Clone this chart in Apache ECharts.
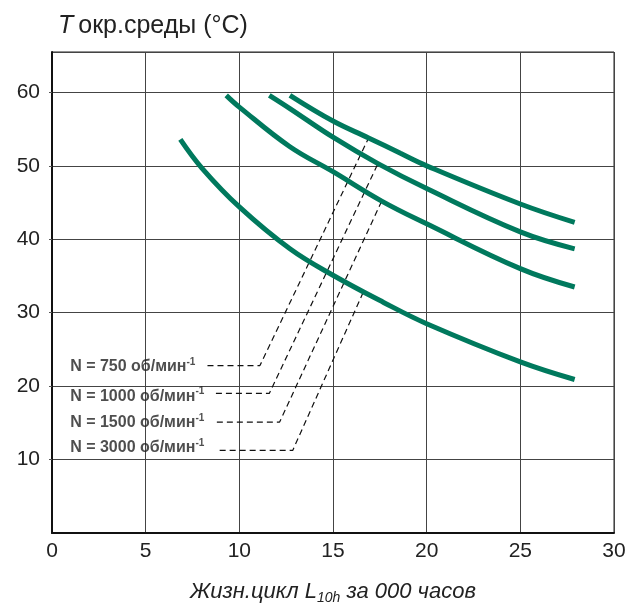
<!DOCTYPE html>
<html>
<head>
<meta charset="utf-8">
<style>
  html, body { margin: 0; padding: 0; background: #fff; }
  #main { width: 638px; height: 603px; }
</style>
<script src="https://cdn.jsdelivr.net/npm/echarts@6/dist/echarts.min.js"></script>
</head>
<body>
<div id="main"></div>
<script>
// скорости (подписи кривых)
var speeds = ['750', '1000', '1500', '3000'];
// кривые: [жизн.цикл, T]
var curve750 = [[12.7, 59.6], [15, 56.1], [16.9, 53.8], [18.6, 51.7], [20, 50.0], [25, 44.8], [27.9, 42.3]];
var curve1000 = [[11.6, 59.6], [12.7, 57.8], [15, 53.9], [17.4, 50.3], [20, 46.9], [25, 41.0], [27.9, 38.7]];
var curve1500 = [[9.3, 59.6], [10, 58.0], [12.7, 52.6], [15, 49.2], [17.6, 45.2], [20, 42.1], [25, 36.0], [27.9, 33.5]];
var curve3000 = [[6.85, 53.6], [8, 49.7], [10, 44.4], [12.7, 38.7], [15, 35.1], [17.7, 31.4], [20, 28.5], [25, 23.3], [27.9, 20.9]];
// выноски: начало у подписи, излом, точка на кривой
var lead750 = [[8.3, 22.8], [11.1, 22.8], [16.9, 53.8]];
var lead1000 = [[8.75, 19.0], [11.6, 19.0], [17.4, 50.3]];
var lead1500 = [[8.8, 15.1], [12.15, 15.1], [17.6, 45.2]];
var lead3000 = [[8.95, 11.25], [12.85, 11.25], [16.6, 32.7]];
// положение подписей (левый край)
var labelPos = [[0.97, 22.6], [0.97, 18.6], [0.97, 15.0], [0.97, 11.6]];
var xTicks = [0, 5, 10, 15, 20, 25, 30];
var yTicks = [10, 20, 30, 40, 50, 60];

var curves = [curve750, curve1000, curve1500, curve3000];
var leads = [lead750, lead1000, lead1500, lead3000];

var green = '#00795d';
var ink = '#222';
var font = 'Liberation Sans, Arial';

var chart = echarts.init(document.getElementById('main'), null, { renderer: 'canvas' });

var series = [];
curves.forEach(function (c, i) {
  series.push({
    name: speeds[i],
    type: 'line',
    data: c,
    smooth: 0.4,
    showSymbol: false,
    lineStyle: { color: green, width: 5, cap: 'butt' },
    silent: true,
    z: 3
  });
});
leads.forEach(function (l) {
  series.push({
    type: 'line',
    data: l,
    showSymbol: false,
    lineStyle: { color: '#111', width: 1.2, type: [6, 4] },
    silent: true,
    z: 2
  });
});
series.push({
  type: 'scatter',
  symbolSize: 0,
  silent: true,
  data: labelPos.map(function (p, i) {
    return { value: p, name: speeds[i] };
  }),
  label: {
    show: true,
    position: 'right',
    distance: 0,
    formatter: function (p) { return '{t|N = ' + p.name + ' об/мин}{s|-1}'; },
    rich: {
      t: { fontFamily: font, fontWeight: 'bold', fontSize: 16, color: ink, lineHeight: 20 },
      s: { fontFamily: font, fontWeight: 'bold', fontSize: 10, color: ink, verticalAlign: 'top', lineHeight: 20 }
    }
  },
  z: 4
});

var option = {
  animation: false,
  backgroundColor: '#fff',
  title: {
    left: 53,
    top: 9,
    text: '{i|T} {r|окр.среды (°C)}',
    textStyle: {
      rich: {
        i: { fontFamily: font, fontStyle: 'italic', fontWeight: 'normal', fontSize: 25, color: ink },
        r: { fontFamily: font, fontWeight: 'normal', fontSize: 25, color: ink }
      }
    }
  },
  grid: {
    left: 52, right: 24, top: 52, bottom: 70,
    outerBoundsMode: 'none',
    containLabel: false,
    show: true, borderColor: ink, borderWidth: 1
  },
  xAxis: {
    type: 'value',
    min: xTicks[0],
    max: xTicks[xTicks.length - 1],
    interval: 5,
    name: '{a|Жизн.цикл L}{b|10h}{a| за 000 часов}',
    nameLocation: 'middle',
    nameGap: 46,
    nameTextStyle: {
      rich: {
        a: { fontFamily: font, fontStyle: 'italic', fontSize: 22, color: ink, lineHeight: 26 },
        b: { fontFamily: font, fontStyle: 'italic', fontSize: 14, color: ink, verticalAlign: 'bottom', lineHeight: 26, padding: [9, 0, 0, 0] }
      }
    },
    axisLine: { show: true, lineStyle: { color: '#111', width: 2 } },
    axisTick: { show: false },
    axisLabel: { fontFamily: font, fontSize: 21, color: ink, margin: 8 },
    splitLine: { show: true, lineStyle: { color: '#444', width: 1 } }
  },
  yAxis: {
    type: 'value',
    min: 0,
    max: 65.5,
    interval: 10,
    axisLine: { show: true, lineStyle: { color: '#111', width: 2 } },
    axisTick: { show: true, length: 3, lineStyle: { color: '#555' } },
    axisLabel: {
      fontFamily: font, fontSize: 21, color: ink, margin: 12,
      showMinLabel: false, showMaxLabel: false,
      formatter: function (v) { return yTicks.indexOf(v) >= 0 ? String(v) : ''; }
    },
    splitLine: { show: true, lineStyle: { color: '#444', width: 1 } }
  },
  series: series
};
chart.setOption(option);
</script>
</body>
</html>
